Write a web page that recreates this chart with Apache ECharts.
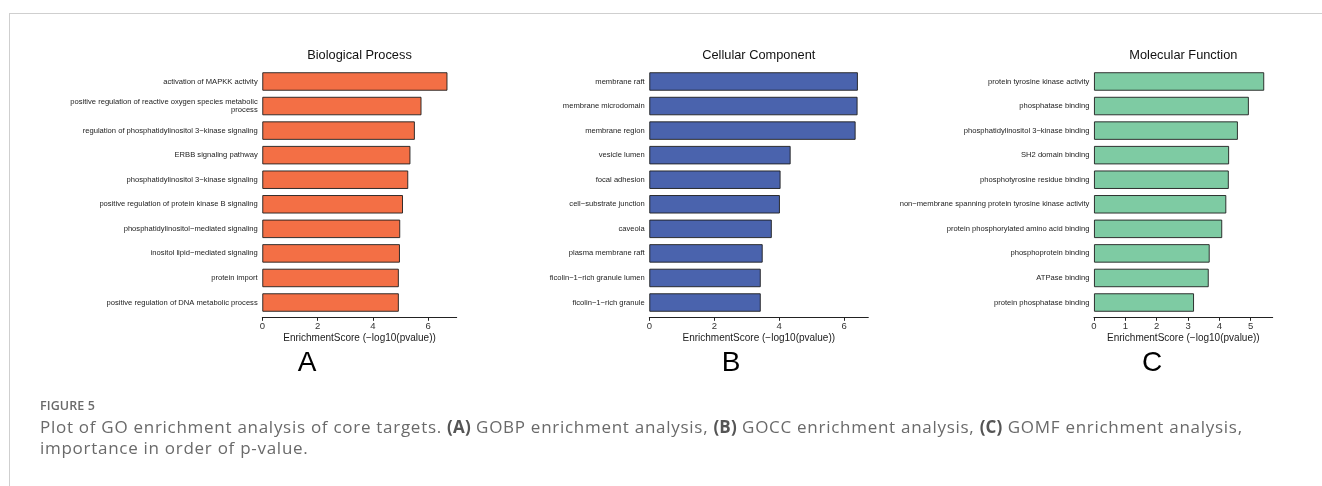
<!DOCTYPE html>
<html>
<head>
<meta charset="utf-8">
<script src="https://cdn.jsdelivr.net/npm/echarts@6/dist/echarts.min.js"></script>
<style>
  html, body { margin: 0; padding: 0; background: #fff; }
  #wrap { position: relative; width: 1322px; height: 486px; overflow: hidden; }
  #chart { position: absolute; left: 0; top: 0; width: 1322px; height: 486px; }
  .frame-top { position: absolute; left: 9px; top: 13px; width: 1313px; height: 1px; background: #cfcfcf; }
  .frame-left { position: absolute; left: 9px; top: 13px; width: 1px; height: 473px; background: #cfcfcf; }
  .fig-no { position: absolute; left: 40px; top: 397px; font-family: "Open Sans", Lato, sans-serif; font-size: 12.5px; font-weight: 600; color: #6a6a6a; letter-spacing: 0.1px; }
  .caption { position: absolute; left: 40px; top: 416px; width: 1280px; white-space: nowrap; font-family: "Open Sans", Lato, sans-serif; font-size: 17px; line-height: 21px; color: #6a6a6a; letter-spacing: 0.72px; }
  .caption b { color: #555; font-weight: 700; letter-spacing: 0.2px; }
</style>
</head>
<body>
<div id="wrap">
  <div id="chart"></div>
  <div class="frame-top"></div>
  <div class="frame-left"></div>
  <div class="fig-no">FIGURE 5</div>
  <div class="caption" id="cap">Plot of GO enrichment analysis of core targets. <b>(A)</b> GOBP enrichment analysis, <b>(B)</b> GOCC enrichment analysis, <b>(C)</b> GOMF enrichment analysis,<br>importance in order of p-value.</div>
</div>
<script>
// GO terms (top to bottom) and their enrichment scores, -log10(pvalue)
const bpTerms = [
  'activation of MAPKK activity',
  'positive regulation of reactive oxygen species metabolic process',
  'regulation of phosphatidylinositol 3\u2212kinase signaling',
  'ERBB signaling pathway',
  'phosphatidylinositol 3\u2212kinase signaling',
  'positive regulation of protein kinase B signaling',
  'phosphatidylinositol\u2212mediated signaling',
  'inositol lipid\u2212mediated signaling',
  'protein import',
  'positive regulation of DNA metabolic process'
];
const bpScores = [6.70, 5.76, 5.52, 5.36, 5.28, 5.09, 4.99, 4.98, 4.94, 4.94];

const ccTerms = [
  'membrane raft',
  'membrane microdomain',
  'membrane region',
  'vesicle lumen',
  'focal adhesion',
  'cell\u2212substrate junction',
  'caveola',
  'plasma membrane raft',
  'ficolin\u22121\u2212rich granule lumen',
  'ficolin\u22121\u2212rich granule'
];
const ccScores = [6.42, 6.41, 6.35, 4.35, 4.04, 4.02, 3.77, 3.49, 3.43, 3.43];

const mfTerms = [
  'protein tyrosine kinase activity',
  'phosphatase binding',
  'phosphatidylinositol 3\u2212kinase binding',
  'SH2 domain binding',
  'phosphotyrosine residue binding',
  'non\u2212membrane spanning protein tyrosine kinase activity',
  'protein phosphorylated amino acid binding',
  'phosphoprotein binding',
  'ATPase binding',
  'protein phosphatase binding'
];
const mfScores = [5.43, 4.94, 4.59, 4.31, 4.30, 4.22, 4.09, 3.69, 3.66, 3.19];

// Axis tick values for each panel
const bpTicks = [0, 2, 4, 6];
const ccTicks = [0, 2, 4, 6];
const mfTicks = [0, 1, 2, 3, 4, 5];

const panelTitles = ['Biological Process', 'Cellular Component', 'Molecular Function'];
const panelLetters = ['A', 'B', 'C'];
const axisTitle = 'EnrichmentScore (\u2212log10(pvalue))';

const panels = [
  { terms: bpTerms, scores: bpScores, ticks: bpTicks, color: '#F36F45', left: 262.3, width: 194.4, letterX: 307 },
  { terms: ccTerms, scores: ccScores, ticks: ccTicks, color: '#4A63AD', left: 649.3, width: 219.0, letterX: 731 },
  { terms: mfTerms, scores: mfScores, ticks: mfTicks, color: '#7ECBA3', left: 1094.0, width: 178.7, letterX: 1152 }
];

const FONT = '"Liberation Sans", Arial, Helvetica, sans-serif';
const GRID_TOP = 69.2, GRID_H = 245.6;

// wrap long term names onto several lines at word boundaries
function wrapLabel(s, maxChars) {
  const words = s.split(' ');
  const lines = [];
  let cur = '';
  for (const w of words) {
    if (cur && (cur + ' ' + w).length > maxChars) { lines.push(cur); cur = w; }
    else cur = cur ? cur + ' ' + w : w;
  }
  if (cur) lines.push(cur);
  return lines.join('\n');
}

const grid = [], xAxis = [], yAxis = [], series = [], graphic = [];

panels.forEach((p, i) => {
  const xmax = Math.max(...p.scores) * 1.05;
  grid.push({ left: p.left, top: GRID_TOP, width: p.width, height: GRID_H, containLabel: false });
  xAxis.push({
    gridIndex: i, type: 'value', min: 0, max: xmax, offset: 2.5,
    name: axisTitle, nameLocation: 'middle', nameGap: 16, nameMoveOverlap: false,
    nameTextStyle: { fontFamily: FONT, fontSize: 10, color: '#1a1a1a' },
    axisLine: { show: true, onZero: false, lineStyle: { color: '#222', width: 1 } },
    axisTick: { show: true, length: 3.5, customValues: p.ticks, lineStyle: { color: '#222', width: 1 } },
    axisLabel: { customValues: p.ticks, fontFamily: FONT, fontSize: 9.5, color: '#333', margin: 4 },
    splitLine: { show: false }
  });
  yAxis.push({
    gridIndex: i, type: 'category', inverse: true, data: p.terms,
    axisLine: { show: false }, axisTick: { show: false },
    axisLabel: {
      fontFamily: FONT, fontSize: 7.6, color: '#222', margin: 4.6, lineHeight: 8,
      formatter: v => wrapLabel(v, 60)
    }
  });
  series.push({
    type: 'bar', xAxisIndex: i, yAxisIndex: i, data: p.scores, barWidth: '75%',
    itemStyle: { color: p.color, borderColor: '#1e1e1e', borderWidth: 0.9 },
    silent: true, animation: false
  });
  // panel heading, centred over the plotting area
  graphic.push({
    type: 'text', x: p.left + p.width / 2, y: 55,
    style: { text: panelTitles[i], font: '12.8px ' + FONT, fill: '#111', align: 'center', verticalAlign: 'middle' }
  });
  graphic.push({
    type: 'text', x: p.letterX, y: 363,
    style: { text: panelLetters[i], font: '28px ' + FONT, fill: '#000', align: 'center', verticalAlign: 'middle' }
  });
});

const chart = echarts.init(document.getElementById('chart'), null, { renderer: 'canvas' });
chart.setOption({
  animation: false,
  backgroundColor: 'transparent',
  grid, xAxis, yAxis, series, graphic
});
</script>
</body>
</html>
